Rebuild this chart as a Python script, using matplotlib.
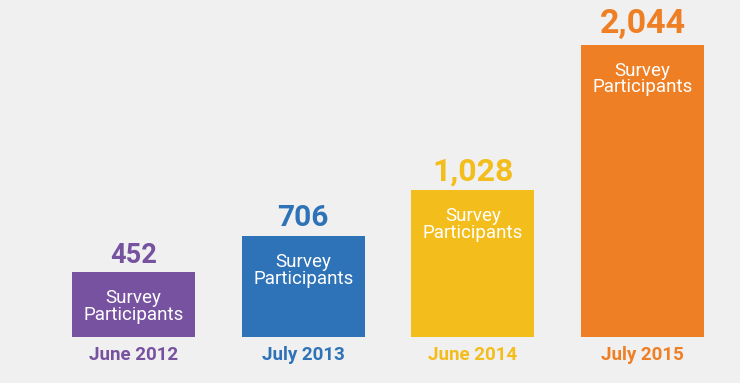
import matplotlib.pyplot as plt

categories = ["June 2012", "July 2013", "June 2014", "July 2015"]
participants = [452, 706, 1028, 2044]
value_labels = ["452", "706", "1,028", "2,044"]
colors = ["#7752a1", "#2e72b8", "#f3bd1c", "#ef7f24"]
inner_text = "Survey\nParticipants"

# the big numbers get larger as the bars grow
value_sizes = [19.5, 21.5, 23, 24.5]
value_gaps = [7, 7, 7, 8.5]

plt.rcParams["font.family"] = ["Roboto", "DejaVu Sans"]

fig = plt.figure(figsize=(7.4, 3.83), dpi=100, facecolor="#f0f0f0")
ax = fig.add_axes([0, 0, 1, 1])
ax.set_facecolor("#f0f0f0")

x = list(range(len(categories)))
bars = ax.bar(x, participants, width=0.726, color=colors, zorder=2)

ax.set_xlim(-0.788, 3.575)
ax.set_ylim(-322, 2358)
ax.axis("off")

for i, b in enumerate(bars):
    top = b.get_height()
    ax.annotate(value_labels[i], (x[i], top), xytext=(0, value_gaps[i]), textcoords="offset points",
                ha="center", va="baseline", fontsize=value_sizes[i], fontweight="bold", color=colors[i])
    ax.annotate(inner_text, (x[i], top), xytext=(0, -12), textcoords="offset points",
                ha="center", va="top", fontsize=13.5, color="white", linespacing=0.92)
    ax.annotate(categories[i], (x[i], 0), xytext=(0, -13), textcoords="offset points",
                ha="center", va="center", fontsize=13.5, fontweight="bold", color=colors[i])

fig.savefig("out.png", dpi=100, facecolor=fig.get_facecolor())
